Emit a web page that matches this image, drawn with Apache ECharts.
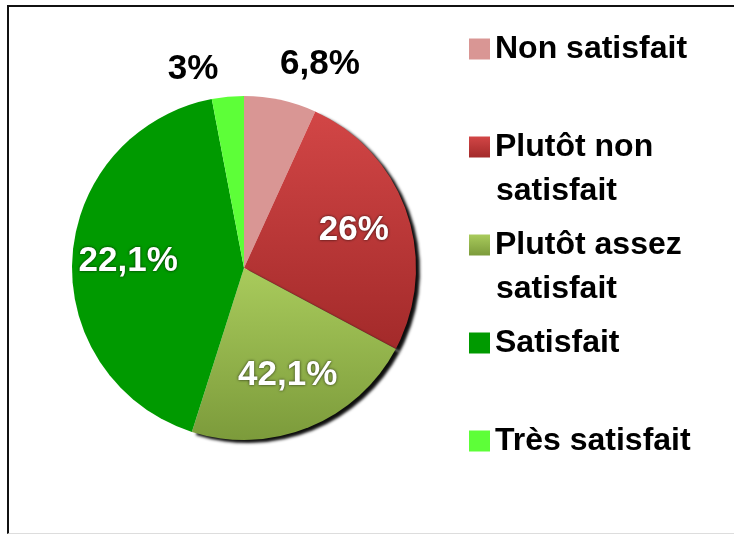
<!DOCTYPE html>
<html>
<head>
<meta charset="utf-8">
<script src="https://cdn.jsdelivr.net/npm/echarts@6/dist/echarts.min.js"></script>
<style>
    html, body { margin: 0; padding: 0; background: #fff; }
    .frame {
        position: absolute; left: 7px; top: 5px; width: 727px; height: 526px;
        border-top: 2px solid #111; border-left: 2px solid #111; border-bottom: 1px solid #ddd;
    }
    #chartPie { position: absolute; left: 0; top: 0; width: 734px; height: 534px; }
</style>
</head>
<body>
<div class="frame"></div>
<div id="chartPie"></div>
<script>
    // categories, in drawing order from 12 o'clock, clockwise
    var categories = ['Non satisfait', 'Plutôt non satisfait', 'Plutôt assez satisfait', 'Satisfait', 'Très satisfait'];
    // slice sizes (%) as drawn
    var values = [6.8, 26, 22.1, 42.1, 3];
    // texts printed on the slices (as in the original picture)
    var sliceLabels = ['6,8%', '26%', '42,1%', '22,1%', '3%'];
    // legend text, split into lines
    var legendLines = [['Non satisfait'], ['Plutôt non', 'satisfait'], ['Plutôt assez', 'satisfait'], ['Satisfait'], ['Très satisfait']];

    var grad = function (a, b) {
        return new echarts.graphic.LinearGradient(0, 0, 0, 1, [{offset: 0, color: a}, {offset: 1, color: b}]);
    };
    var sliceColors = [
        '#d99694',
        grad('#d24646', '#a32a2a'),
        grad('#a9cb5c', '#7c9b3b'),
        '#009a00',
        '#5dff38'
    ];
    var shadowed = [false, true, true, false, false];

    var font = "'Liberation Sans', Arial, sans-serif";
    var center = [244, 268];

    var chartPie = echarts.init(document.getElementById('chartPie'));

    var mainData = values.map(function (v, i) {
        var outside = v < 10;
        return {
            name: categories[i],
            value: v,
            itemStyle: shadowed[i] ? {
                color: sliceColors[i],
                shadowColor: 'rgba(0,0,0,0.95)',
                shadowBlur: 3,
                shadowOffsetX: 4,
                shadowOffsetY: 3
            } : { color: sliceColors[i] },
            label: { show: outside },
            labelLine: { show: false }
        };
    });

    var innerData = values.map(function (v, i) {
        return {
            name: categories[i],
            value: v,
            label: { show: v >= 10 }
        };
    });

    chartPie.setOption({
        animation: false,
        legend: {
            orient: 'vertical',
            left: 469,
            top: 31,
            padding: 0,
            itemWidth: 21,
            itemHeight: 21,
            itemGap: 62,
            selectedMode: false,
            icon: 'rect',
            data: categories,
            formatter: function (name) {
                return legendLines[categories.indexOf(name)][0];
            },
            textStyle: {
                fontFamily: font,
                fontWeight: 'bold',
                fontSize: 32,
                lineHeight: 36,
                color: '#000'
            }
        },
        graphic: [
            { type: 'text', left: 496, top: 175, style: { text: legendLines[1][1], font: 'bold 32px ' + font, fill: '#000' } },
            { type: 'text', left: 496, top: 273, style: { text: legendLines[2][1], font: 'bold 32px ' + font, fill: '#000' } }
        ],
        series: [
            {
                name: 'Satisfaction',
                type: 'pie',
                center: center,
                radius: 172,
                startAngle: 90,
                clockwise: true,
                silent: true,
                label: {
                    position: 'outside',
                    formatter: function (p) { return sliceLabels[p.dataIndex]; },
                    fontFamily: font,
                    fontWeight: 'bold',
                    fontSize: 35,
                    color: '#000',
                    distanceToLabelLine: 0
                },
                labelLine: { length: 36, length2: 0 },
                labelLayout: function (p) {
                    return p.dataIndex === 0 ? { dx: -8, dy: 0 } : { dx: -6, dy: 8 };
                },
                data: mainData
            },
            {
                // carries the labels drawn inside the large slices
                name: 'labels',
                type: 'pie',
                center: center,
                radius: [0, 226],
                startAngle: 90,
                clockwise: true,
                silent: true,
                itemStyle: { color: 'rgba(0,0,0,0)' },
                label: {
                    position: 'inside',
                    formatter: function (p) { return sliceLabels[p.dataIndex]; },
                    fontFamily: font,
                    fontWeight: 'bold',
                    fontSize: 35,
                    color: '#fff',
                    textShadowColor: 'rgba(0,0,0,0.75)',
                    textShadowBlur: 3
                },
                labelLine: { show: false },
                data: innerData
            }
        ]
    });
</script>
</body>
</html>
